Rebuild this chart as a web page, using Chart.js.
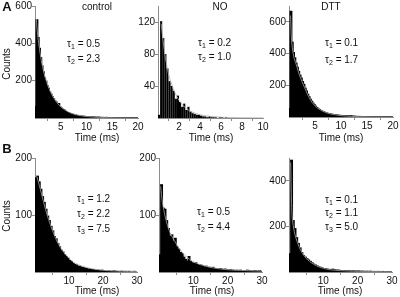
<!DOCTYPE html>
<html>
<head>
<meta charset="utf-8">
<script src="https://cdn.jsdelivr.net/npm/chart.js@4"></script>
<style>
body { margin: 0; width: 400px; height: 297px; position: relative; overflow: hidden; background: #fff;
       font-family: "Liberation Sans", Arial, sans-serif; color: #111; }
canvas { position: absolute; left: 0; top: 0; }
.t { position: absolute; font-size: 10px; white-space: nowrap; line-height: 1; transform: translate(-50%, -50%); }
.l { position: absolute; font-size: 10px; white-space: nowrap; line-height: 1; transform: translateY(-50%); }
.big { font-weight: bold; font-size: 13px; }
.rot { transform: translate(-50%, -50%) rotate(-90deg); }
sub { font-size: 7px; vertical-align: -2px; line-height: 0; }
</style>
</head>
<body>
<canvas id="a1" width="400" height="297"></canvas>
<canvas id="a2" width="400" height="297"></canvas>
<canvas id="a3" width="400" height="297"></canvas>
<canvas id="b1" width="400" height="297"></canvas>
<canvas id="b2" width="400" height="297"></canvas>
<canvas id="b3" width="400" height="297"></canvas>

<div class="t big" style="left:7px; top:6px">A</div>
<div class="t big" style="left:7px; top:148px">B</div>
<div class="t rot" style="left:7px; top:64px">Counts</div>
<div class="t rot" style="left:7px; top:216px">Counts</div>

<div class="t" style="left:97px; top:7px">control</div>
<div class="t" style="left:220px; top:7px">NO</div>
<div class="t" style="left:331px; top:7px">DTT</div>

<div class="l" style="left:67px; top:44px">τ<sub>1</sub> = 0.5</div>
<div class="l" style="left:67px; top:59px">τ<sub>2</sub> = 2.3</div>
<div class="l" style="left:198px; top:43px">τ<sub>1</sub> = 0.2</div>
<div class="l" style="left:198px; top:57px">τ<sub>2</sub> = 1.0</div>
<div class="l" style="left:325px; top:43px">τ<sub>1</sub> = 0.1</div>
<div class="l" style="left:325px; top:60px">τ<sub>2</sub> = 1.7</div>

<div class="l" style="left:77px; top:199px">τ<sub>1</sub> = 1.2</div>
<div class="l" style="left:77px; top:214px">τ<sub>2</sub> = 2.2</div>
<div class="l" style="left:77px; top:229px">τ<sub>3</sub> = 7.5</div>
<div class="l" style="left:197px; top:212px">τ<sub>1</sub> = 0.5</div>
<div class="l" style="left:197px; top:227px">τ<sub>2</sub> = 4.4</div>
<div class="l" style="left:325px; top:200px">τ<sub>1</sub> = 0.1</div>
<div class="l" style="left:325px; top:213px">τ<sub>2</sub> = 1.1</div>
<div class="l" style="left:325px; top:227px">τ<sub>3</sub> = 5.0</div>

<div class="t" style="left:97px; top:138px">Time (ms)</div>
<div class="t" style="left:211px; top:138px">Time (ms)</div>
<div class="t" style="left:341px; top:138px">Time (ms)</div>
<div class="t" style="left:97px; top:291px">Time (ms)</div>
<div class="t" style="left:212px; top:291px">Time (ms)</div>
<div class="t" style="left:340px; top:291px">Time (ms)</div>

<script>
// histogram counts per bin (bin width in ms given next to each)
const binA1 = 0.25;
const countsA1 = [60, 525, 430, 372, 322, 278, 246, 214, 196, 172,
  158, 138, 126, 112, 102, 90, 84, 70, 76, 58,
  52, 46, 44, 36, 33, 28, 26, 22, 21, 18,
  16, 14, 13, 11, 10, 9, 8, 8, 7, 6,
  5, 5, 4, 4, 3, 4, 3, 2, 2, 3,
  2, 1, 2, 1, 1, 2, 1, 1, 0, 1,
  1, 0, 1, 0, 1, 0, 0, 1, 0, 0,
  1, 0, 0, 0, 0, 1, 0, 0, 0, 0];
const binA2 = 0.2;
const countsA2 = [4, 121, 100, 80, 62, 46, 40, 34, 24, 28,
  20, 14, 18, 10, 14, 8, 6, 5, 4, 4,
  3, 2, 2, 1, 2, 1, 1, 1, 0, 1,
  1, 0, 1, 0, 0, 0, 0, 0, 0, 0,
  0, 0, 0, 0, 0, 0, 0, 0, 0, 0];
const binA3 = 0.25;
const countsA3 = [52, 665, 470, 405, 372, 338, 312, 286, 262, 244,
  222, 204, 180, 162, 142, 126, 110, 98, 86, 76,
  66, 58, 50, 45, 40, 35, 31, 28, 25, 22,
  20, 18, 16, 15, 13, 12, 11, 10, 9, 8,
  8, 7, 6, 6, 5, 5, 4, 6, 4, 3,
  3, 2, 2, 1, 2, 1, 1, 1, 1, 0,
  1, 1, 0, 1, 0, 0, 1, 0, 0, 0,
  1, 0, 0, 0, 0, 0, 0, 0, 0, 0];
const binB = 0.5;
const countsB1 = [165, 168, 158, 145, 132, 122, 110, 98, 90, 80,
  72, 62, 58, 50, 44, 38, 35, 30, 27, 24,
  20, 18, 15, 13, 12, 10, 10, 8, 8, 7,
  6, 5, 5, 4, 4, 3, 3, 3, 2, 3,
  2, 2, 1, 2, 1, 1, 2, 1, 1, 0,
  1, 1, 0, 1, 0, 1, 0, 0, 1, 0];
const countsB2 = [30, 153, 112, 110, 90, 76, 62, 65, 54, 59,
  44, 40, 34, 32, 26, 22, 19, 27, 18, 16,
  15, 16, 13, 12, 12, 11, 9, 10, 8, 8,
  7, 8, 6, 6, 5, 6, 5, 4, 5, 4,
  3, 4, 3, 3, 2, 3, 2, 3, 2, 2,
  2, 3, 2, 2, 1, 2, 2, 1, 2, 1];
const countsB3 = [80, 490, 225, 190, 150, 125, 105, 85, 72, 65,
  58, 52, 46, 40, 34, 30, 26, 22, 20, 17,
  15, 14, 12, 11, 10, 12, 9, 8, 8, 7,
  6, 6, 5, 5, 5, 4, 4, 4, 4, 3,
  4, 3, 3, 3, 2, 3, 2, 3, 2, 2,
  2, 2, 2, 1, 2, 1, 1, 1, 1, 1];

// fitted curves (grey)
const fitA1t = [0.25, 0.5, 1, 1.5, 2, 3, 4, 5, 6, 7, 8, 10, 12, 15, 20];
const fitA1y = [530, 450, 345, 270, 215, 140, 92, 60, 40, 26, 17, 8, 4, 1.5, 0.3];
const fitA2t = [0.3, 0.5, 0.7, 1, 1.3, 1.6, 2, 2.5, 3, 4, 5, 6, 8, 10];
const fitA2y = [118, 95, 76, 55, 42, 32, 22, 14, 9, 4, 2, 1, 0.3, 0.1];
const fitA3t = [0.3, 0.5, 0.8, 1, 1.5, 2, 3, 4, 5, 6, 7, 8, 10, 12, 15, 20];
const fitA3y = [640, 480, 400, 370, 320, 265, 185, 115, 70, 45, 29, 19, 9, 4, 1.5, 0.3];
const fitB1t = [0.5, 1, 2, 3, 4, 5, 6, 7, 8, 10, 12, 15, 20, 25, 30];
const fitB1y = [168, 158, 135, 112, 92, 75, 60, 48, 38, 24, 15, 8, 3, 1.5, 0.8];
const fitB2t = [0.5, 1, 2, 3, 4, 5, 6, 8, 10, 12, 15, 20, 25, 30];
const fitB2y = [150, 122, 92, 72, 60, 50, 40, 27, 18, 13, 8, 4, 2.5, 1.5];
const fitB3t = [0.5, 0.75, 1, 1.5, 2, 3, 4, 5, 6, 8, 10, 12, 15, 20, 25, 30];
const fitB3y = [480, 300, 230, 180, 150, 108, 80, 60, 46, 27, 16, 10, 6, 3, 2, 1];

// tick labels
const xTicks20 = [5, 10, 15, 20];
const xTicks10 = [2, 4, 6, 8, 10];
const xTicks30 = [10, 20, 30];
const yTicksA1 = [200, 400, 600];
const yTicksA2 = [40, 80, 120];
const yTicksA3 = [200, 400, 600];
const yTicksB12 = [100, 200];
const yTicksB3 = [200, 400];

const YW = 30, XH = 16;
const AXIS = '#8c8c8c';
const tickFont = { family: '"Liberation Sans", Arial, sans-serif', size: 10 };

// area = [left, right, top, bottom] of the plot box in page pixels
function drawPanel(id, area, binW, counts, xMax, xTicks, yMax, yTicks, fitT, fitY, inflate) {
    const bars = counts.map((c, i) => ({ x: (i + 0.5) * binW, y: c }));
    const fit = fitT.map((t, i) => ({ x: t, y: fitY[i] }));
    const axis = (ticks, fit) => ({
        type: 'linear',
        offset: false,
        afterBuildTicks: s => { s.ticks = ticks.map(v => ({ value: v })); },
        afterFit: fit,
        grid: { drawOnChartArea: false, tickLength: 3, color: AXIS },
        border: { color: AXIS, width: 1 },
        ticks: { font: tickFont, color: '#111', padding: 0, maxRotation: 0 }
    });
    const x = axis(xTicks, s => { s.height = XH; });
    x.min = 0; x.max = xMax;
    const y = axis(yTicks, s => { s.width = YW; });
    y.min = 0; y.max = yMax;
    return new Chart(document.getElementById(id).getContext('2d'), {
        type: 'bar',
        data: {
            datasets: [
                { type: 'line', data: fit, borderColor: '#a8a8a8', borderWidth: 0.8, pointRadius: 0, tension: 0.3 },
                { data: bars, backgroundColor: '#000', borderWidth: 0, barPercentage: 1, categoryPercentage: 1, inflateAmount: inflate }
            ]
        },
        options: {
            responsive: false,
            animation: false,
            events: [],
            layout: { padding: { left: area[0] - YW, right: 400 - area[1], top: area[2], bottom: 297 - area[3] - XH } },
            plugins: { legend: { display: false }, tooltip: { enabled: false } },
            scales: { x: x, y: y }
        }
    });
}

drawPanel('a1', [35, 138, 4, 118], binA1, countsA1, 20, xTicks20, 600, yTicksA1, fitA1t, fitA1y, 0.8);
drawPanel('a2', [158, 263, 4, 118], binA2, countsA2, 10, xTicks10, 140, yTicksA2, fitA2t, fitA2y, 0);
drawPanel('a3', [289, 393, 4, 117], binA3, countsA3, 20, xTicks20, 700, yTicksA3, fitA3t, fitA3y, 0.8);
drawPanel('b1', [35, 137, 158, 272], binB, countsB1, 30, xTicks30, 200, yTicksB12, fitB1t, fitB1y, 0.6);
drawPanel('b2', [159, 262, 158, 272], binB, countsB2, 30, xTicks30, 200, yTicksB12, fitB2t, fitB2y, 0.6);
drawPanel('b3', [289, 392, 158, 272], binB, countsB3, 30, xTicks30, 500, yTicksB3, fitB3t, fitB3y, 0.6);
</script>
</body>
</html>
